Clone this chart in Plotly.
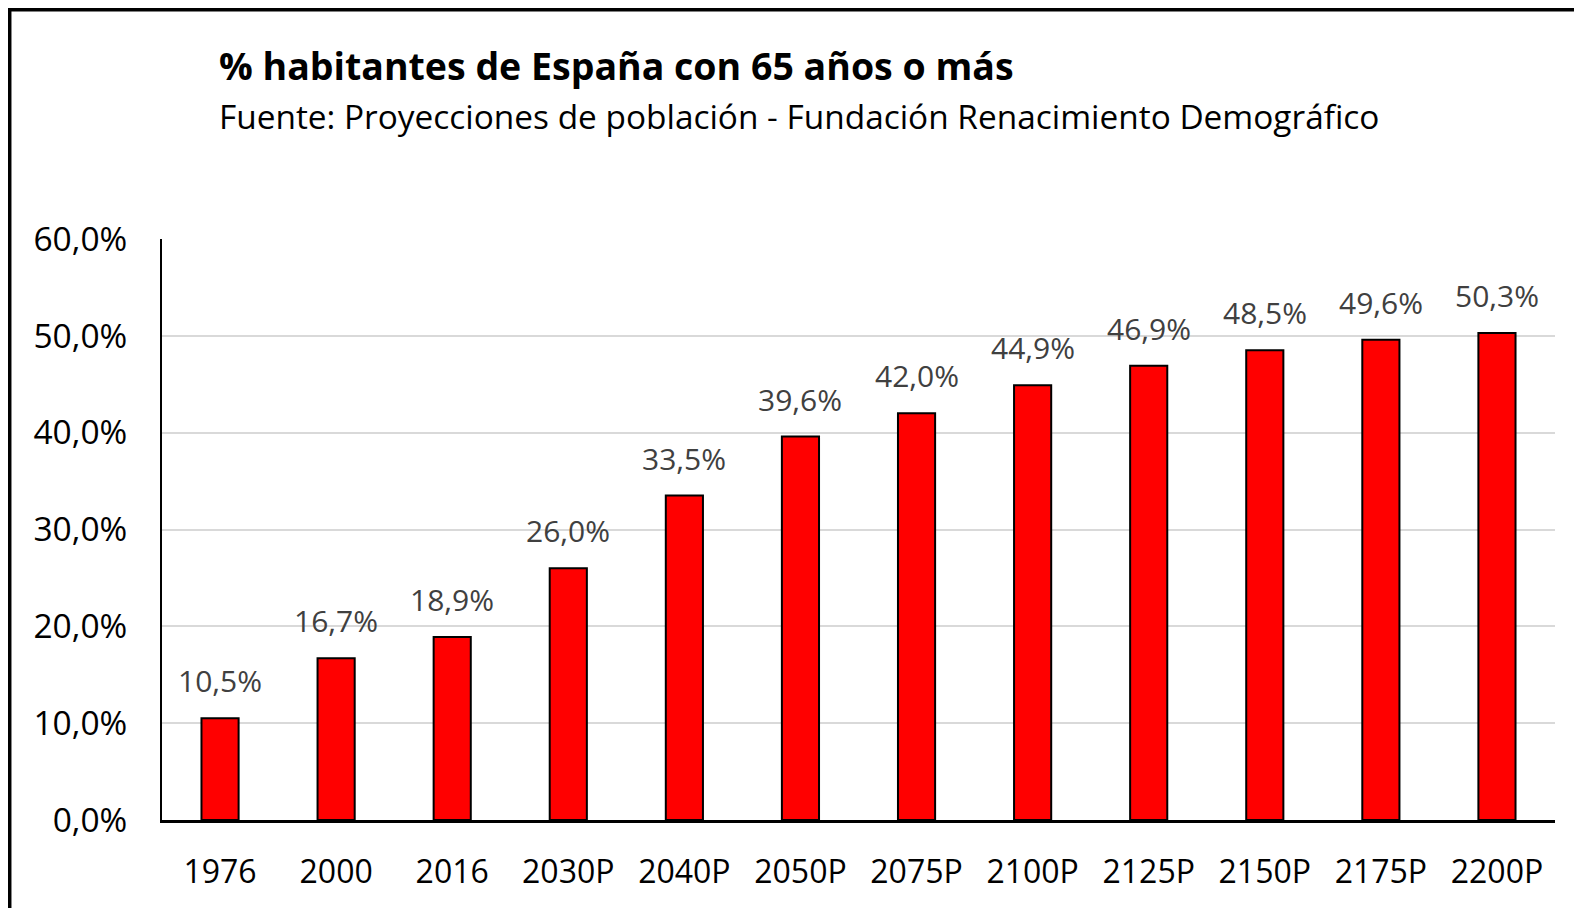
import plotly.graph_objects as go

categories = ["1976", "2000", "2016", "2030P", "2040P", "2050P", "2075P",
              "2100P", "2125P", "2150P", "2175P", "2200P"]
values = [0.105, 0.167, 0.189, 0.260, 0.335, 0.396, 0.420,
          0.449, 0.469, 0.485, 0.496, 0.503]
y_ticks = [0.0, 0.1, 0.2, 0.3, 0.4, 0.5, 0.6]
y_tick_labels = ["0,0%", "10,0%", "20,0%", "30,0%", "40,0%", "50,0%", "60,0%"]
value_labels = [f"{v*100:.1f}%".replace(".", ",") for v in values]

title_text = "% habitantes de España con 65 años o más"
subtitle_text = "Fuente: Proyecciones de población - Fundación Renacimiento Demográfico"

FONT = "Open Sans"

fig = go.Figure()
fig.add_trace(go.Bar(
    x=categories, y=values,
    marker=dict(color="#ff0000", line=dict(color="black", width=2)),
    hoverinfo="skip",
))

annotations = []
for i, (v, t) in enumerate(zip(values, value_labels)):
    annotations.append(dict(
        x=i, y=v, xref="x", yref="y", text=t, showarrow=False,
        yanchor="bottom", yshift=15,
        font=dict(family=FONT, size=30, color="#404040"),
    ))
annotations.append(dict(
    x=0.0395, y=1.298, xref="paper", yref="paper", text="<b>" + title_text + "</b>",
    showarrow=False, xanchor="left", yanchor="middle",
    font=dict(family=FONT, size=37.5, color="black"),
))
annotations.append(dict(
    x=0.0395, y=1.212, xref="paper", yref="paper", text=subtitle_text,
    showarrow=False, xanchor="left", yanchor="middle",
    font=dict(family=FONT, size=33.4, color="black"),
))

fig.update_layout(
    width=1582, height=908,
    margin=dict(l=154, r=35, t=231, b=96),
    paper_bgcolor="white", plot_bgcolor="white",
    showlegend=False,
    bargap=0.68,
    annotations=annotations,
    shapes=[dict(type="rect", xref="paper", yref="paper",
                 x0=-0.1095, x1=1.1, y0=-0.4, y1=1.395,
                 line=dict(color="black", width=4), layer="above")],
)
fig.update_xaxes(
    type="category", categoryorder="array", categoryarray=categories,
    range=[-0.5, len(categories) - 0.5],
    showline=True, linecolor="black", linewidth=2.5,
    showgrid=False, ticks="", ticklabelstandoff=22,
    tickfont=dict(family=FONT, size=32, color="black"),
)
fig.update_yaxes(
    range=[0, 0.6], tickvals=y_ticks, ticktext=y_tick_labels,
    showline=True, linecolor="black", linewidth=2,
    showgrid=True, gridcolor="#d9d9d9", gridwidth=2,
    zeroline=False, ticks="", ticklabelstandoff=26,
    tickfont=dict(family=FONT, size=33.5, color="black"),
)

fig.write_html("out.html")
